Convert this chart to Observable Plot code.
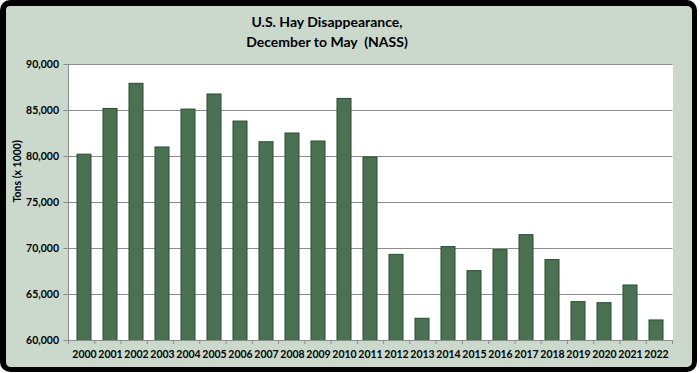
<!DOCTYPE html>
<html>
<head>
<meta charset="utf-8">
<script src="https://cdn.jsdelivr.net/npm/d3@7"></script>
<script src="https://cdn.jsdelivr.net/npm/@observablehq/plot@0.6"></script>
<style>
  html, body { margin: 0; padding: 0; background: #ffffff; }
  #frame { position: absolute; left: 0; top: 0; width: 697px; height: 372px; box-sizing: border-box;
           border-style: solid; border-color: #000; border-width: 6px 5px 5px 6px; border-radius: 10px;
           background: #cbd8cc; }
  #title { position: absolute; left: 0; top: 12px; width: 654px; text-align: center;
           font-family: Lato, "DejaVu Sans", sans-serif; font-weight: bold; font-size: 14px; line-height: 20px; color: #000; }
  #chart { position: absolute; left: 0; top: 0; }
</style>
</head>
<body>
<div id="frame"></div>
<div id="title">U.S. Hay Disappearance,<br>December to May&nbsp; (NASS)</div>
<div id="chart"></div>
<script>
const years = ["2000","2001","2002","2003","2004","2005","2006","2007","2008","2009","2010","2011",
               "2012","2013","2014","2015","2016","2017","2018","2019","2020","2021","2022"];
const tons = [80200, 85170, 87900, 80980, 85100, 86740, 83800, 81550, 82500, 81630, 86260, 79890,
              69310, 62360, 70150, 67540, 69820, 71450, 68740, 64170, 64060, 65980, 62180];
const yTicks = [60000, 65000, 70000, 75000, 80000, 85000, 90000];
const yLabel = "Tons (x 1000)";

const data = years.map((year, i) => ({year, tons: tons[i]}));
const gray = "#8c8c8c";

// band-boundary tick marks on the x axis and the left axis line, derived from the layout
function axisFrame(index, scales, values, dims) {
  const g = d3.create("svg:g");
  const x0 = dims.marginLeft, x1 = dims.width - dims.marginRight;
  const yTop = dims.marginTop, yBot = dims.height - dims.marginBottom;
  const n = years.length;
  const step = (x1 - x0) / n;
  g.append("line").attr("x1", x0).attr("x2", x0).attr("y1", yTop).attr("y2", yBot)
    .attr("stroke", gray).attr("stroke-width", 1);
  for (let i = 0; i <= n; i++) {
    const xx = x0 + i * step;
    g.append("line").attr("x1", xx).attr("x2", xx).attr("y1", yBot).attr("y2", yBot + 4)
      .attr("stroke", gray).attr("stroke-width", 1);
  }
  return g.node();
}

const chart = Plot.plot({
  width: 700,
  height: 373,
  marginLeft: 68.5,
  marginRight: 27.5,
  marginTop: 64,
  marginBottom: 33,
  style: {background: "transparent", fontFamily: "Lato, 'DejaVu Sans', sans-serif", fontWeight: "bold", fontSize: "10.5px", color: "#000", overflow: "visible"},
  x: {domain: years, paddingInner: 0.45, paddingOuter: 0.225, label: null},
  y: {domain: [yTicks[0], yTicks[yTicks.length - 1]], label: null},
  marks: [
    Plot.frame({fill: "#ffffff", stroke: null}),
    Plot.ruleY(yTicks, {stroke: gray, strokeWidth: 1}),
    Plot.barY(data, {x: "year", y: "tons", fill: "#4b7153", stroke: "#2d4a33", strokeWidth: 1, clip: true}),
    axisFrame,
    Plot.axisY({ticks: yTicks, tickFormat: d3.format(","), tickSize: 5, tickPadding: 5, stroke: gray, fill: "#000", label: null}),
    Plot.axisX({tickSize: 0, tickPadding: 10, fill: "#000", label: null}),
    Plot.text([yLabel], {frameAnchor: "left", rotate: -90, dx: -51, fill: "#000", fontSize: 10.5, fontWeight: "bold"})
  ]
});
document.getElementById("chart").appendChild(chart);
</script>
</body>
</html>
